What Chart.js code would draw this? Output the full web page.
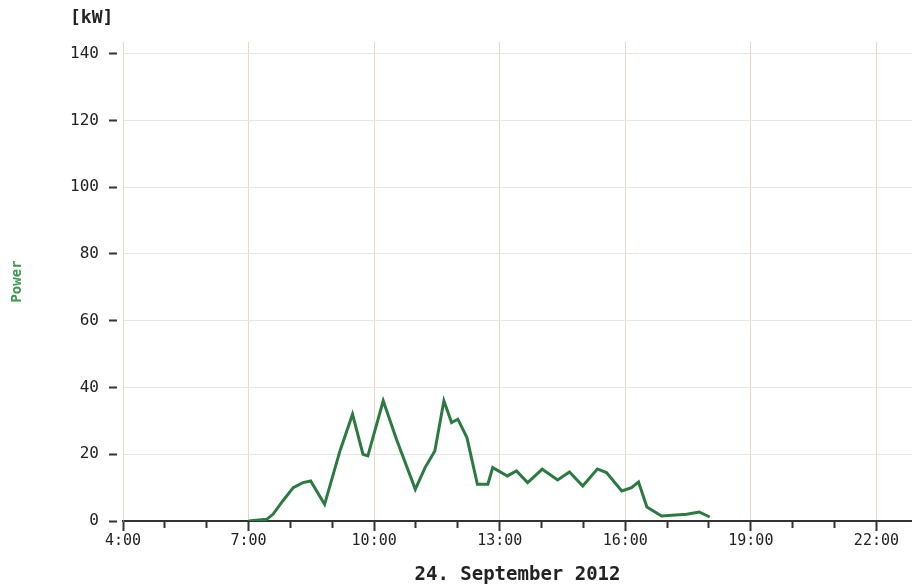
<!DOCTYPE html>
<html>
<head>
<meta charset="utf-8">
<title>Power - 24. September 2012</title>
<script src="https://cdn.jsdelivr.net/npm/chart.js@4.4.1/dist/chart.umd.min.js"></script>
<style>
    html, body { margin: 0; padding: 0; background: #fff; }
    #powerChart { display: block; }
</style>
</head>
<body>
<canvas id="powerChart" width="912" height="588"></canvas>
<script>
// Readings (time of day, kW) taken off the plot
const times = ['7:00', '7:26', '7:35', '7:49', '8:04', '8:18', '8:29', '8:49', '9:11', '9:29',
    '9:44', '9:51', '10:13', '10:32', '10:59', '11:13', '11:27', '11:40', '11:51', '12:00',
    '12:13', '12:28', '12:43', '12:50', '13:11', '13:24', '13:40', '14:01', '14:23', '14:40',
    '14:59', '15:20', '15:33', '15:55', '16:09', '16:19', '16:31', '16:52', '17:28', '17:46', '18:01'];
const power = [0, 0.5, 2, 6, 10, 11.5, 12, 5, 21, 32,
    20, 19.5, 36, 24.5, 9.5, 16, 21, 36, 29.5, 30.5,
    25, 11, 11, 16, 13.5, 15, 11.5, 15.5, 12.3, 14.7,
    10.5, 15.6, 14.5, 9, 10, 11.7, 4.2, 1.5, 2, 2.7, 1.2];

// Axis ticks
const yTicks = [0, 20, 40, 60, 80, 100, 120, 140];
const hourLabels = ['4:00', '7:00', '10:00', '13:00', '16:00', '19:00', '22:00'];

const toHours = t => {
    const [h, m] = t.split(':').map(Number);
    return h + m / 60;
};
const labelHours = hourLabels.map(toHours);
const labelIndex = v => labelHours.findIndex(h => Math.abs(h - v) < 1e-6);

// Extra text: unit label above the y axis
const unitLabel = {
    id: 'unitLabel',
    afterDraw(chart) {
        const ctx = chart.ctx;
        ctx.save();
        ctx.font = 'bold 18px "DejaVu Sans Mono"';
        ctx.fillStyle = '#222';
        ctx.textAlign = 'left';
        ctx.textBaseline = 'middle';
        ctx.fillText('[kW]', chart.chartArea.left - 53, 18);
        ctx.restore();
    }
};

new Chart(document.getElementById('powerChart').getContext('2d'), {
    type: 'line',
    data: {
        datasets: [{
            label: 'Power',
            data: times.map((t, i) => ({ x: toHours(t), y: power[i] })),
            borderColor: '#2b7a42',
            borderWidth: 3,
            pointRadius: 0,
            tension: 0,
            fill: false
        }]
    },
    options: {
        responsive: false,
        animation: false,
        layout: { padding: { top: 42, right: 0, left: 0, bottom: 0 } },
        plugins: {
            legend: { display: false },
            tooltip: { enabled: false }
        },
        scales: {
            x: {
                type: 'linear',
                min: 4,
                max: 22.85,
                afterBuildTicks: scale => {
                    scale.ticks = [];
                    for (let h = 4; h <= 22; h++) scale.ticks.push({ value: h });
                },
                afterFit: scale => { scale.height = 67; },
                ticks: {
                    autoSkip: false,
                    maxRotation: 0,
                    padding: 1,
                    color: '#222',
                    font: { family: '"DejaVu Sans Mono"', size: 15 },
                    callback: v => labelIndex(v) >= 0 ? hourLabels[labelIndex(v)] : ''
                },
                grid: {
                    color: ctx => labelIndex(ctx.tick.value) > 0 ? 'rgba(214,184,150,0.55)' : 'rgba(0,0,0,0)',
                    tickColor: '#333',
                    tickWidth: 2,
                    tickLength: 10,
                    tickBorderDash: ctx => labelIndex(ctx.tick.value) >= 0 ? [] : [6, 30]
                },
                border: { color: '#333', width: 2 },
                title: {
                    display: true,
                    text: '24. September 2012',
                    color: '#222',
                    font: { family: '"DejaVu Sans Mono"', size: 19, weight: 'bold' },
                    padding: { top: 6, bottom: 2 }
                }
            },
            y: {
                min: 0,
                max: 143.5,
                afterBuildTicks: scale => {
                    scale.ticks = yTicks.map(v => ({ value: v }));
                },
                afterFit: scale => { scale.width = 123; },
                ticks: {
                    padding: 10,
                    color: '#222',
                    font: { family: '"DejaVu Sans Mono"', size: 16 }
                },
                grid: {
                    color: ctx => ctx.tick.value === 0 ? 'rgba(0,0,0,0)' : '#e6e6e6',
                    tickColor: '#333',
                    tickWidth: 2,
                    tickLength: 14,
                    tickBorderDash: [8, 6]
                },
                border: { color: 'rgba(214,184,150,0.55)', width: 1 },
                title: {
                    display: true,
                    text: 'Power',
                    color: '#3c9a4c',
                    font: { family: '"DejaVu Sans Mono"', size: 14, weight: 'bold' },
                    padding: { top: 9, bottom: 0 }
                }
            }
        }
    },
    plugins: [unitLabel]
});
</script>
</body>
</html>
